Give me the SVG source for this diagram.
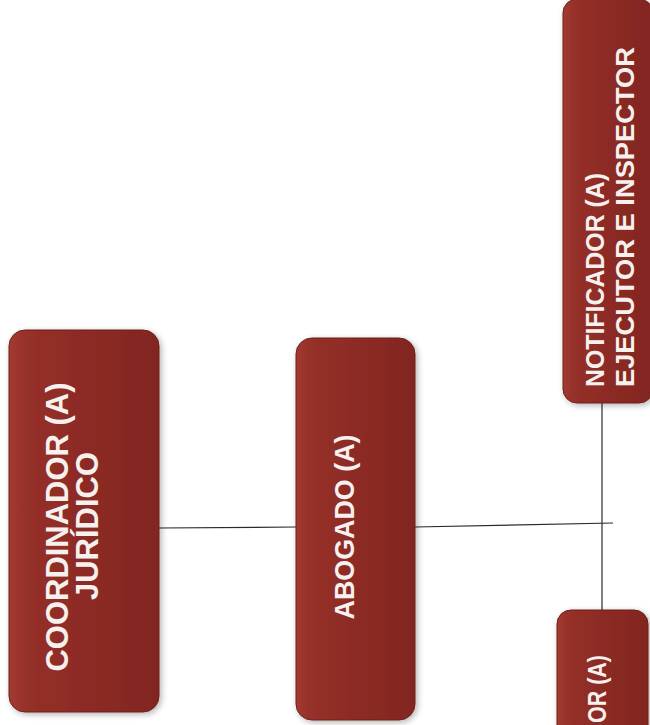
<svg xmlns="http://www.w3.org/2000/svg" width="650" height="725" viewBox="0 0 650 725">
<defs>
<linearGradient id="g" x1="0" y1="0" x2="1" y2="0">
<stop offset="0" stop-color="#a33b32"/>
<stop offset="0.12" stop-color="#953029"/>
<stop offset="0.6" stop-color="#8a2a24"/>
<stop offset="1" stop-color="#822621"/>
</linearGradient>
<filter id="sh" x="-20%" y="-10%" width="140%" height="120%">
<feGaussianBlur in="SourceAlpha" stdDeviation="3"/>
<feOffset dx="2" dy="2"/>
<feComponentTransfer><feFuncA type="linear" slope="0.3"/></feComponentTransfer>
<feMerge><feMergeNode/><feMergeNode in="SourceGraphic"/></feMerge>
</filter>
</defs>
<style>
.box{fill:url(#g);stroke:#6e1f1b;stroke-width:1;filter:url(#sh)}
.t{font-family:"Liberation Sans",Arial,sans-serif;font-weight:bold;fill:#f6f0ee}
.c{stroke:#2a2a2a;stroke-width:1.2;fill:none}
</style>
<rect width="650" height="725" fill="#ffffff"/>
<g id="connectors">
<line class="c" x1="159" y1="528" x2="296" y2="527"/>
<line class="c" x1="415" y1="527" x2="613" y2="523"/>
<line class="c" x1="602" y1="403" x2="602" y2="610"/>
</g>
<g id="coordinador">
<rect class="box" x="9" y="330" width="150" height="382" rx="16"/>
<text class="t" font-size="31" text-anchor="middle" transform="translate(68,527) rotate(-90)" textLength="289" lengthAdjust="spacingAndGlyphs">COORDINADOR (A)</text>
<text class="t" font-size="31" text-anchor="middle" transform="translate(98,526) rotate(-90)" textLength="148" lengthAdjust="spacingAndGlyphs">JURÍDICO</text>
</g>
<g id="abogado">
<rect class="box" x="296" y="338" width="119" height="382" rx="16"/>
<text class="t" font-size="28" text-anchor="middle" transform="translate(354,527) rotate(-90)" textLength="185" lengthAdjust="spacingAndGlyphs">ABOGADO (A)</text>
</g>
<g id="notificador">
<rect class="box" x="563" y="-1" width="90" height="404" rx="14"/>
<text class="t" font-size="26" transform="translate(604,387) rotate(-90)" textLength="214" lengthAdjust="spacingAndGlyphs">NOTIFICADOR (A)</text>
<text class="t" font-size="26" transform="translate(634,387) rotate(-90)" textLength="340" lengthAdjust="spacingAndGlyphs">EJECUTOR E INSPECTOR</text>
</g>
<g id="node4">
<rect class="box" x="557" y="610" width="91" height="130" rx="14"/>
<text class="t" font-size="26" transform="translate(606,723) rotate(-90)" textLength="68" lengthAdjust="spacingAndGlyphs">OR (A)</text>
</g>
</svg>
